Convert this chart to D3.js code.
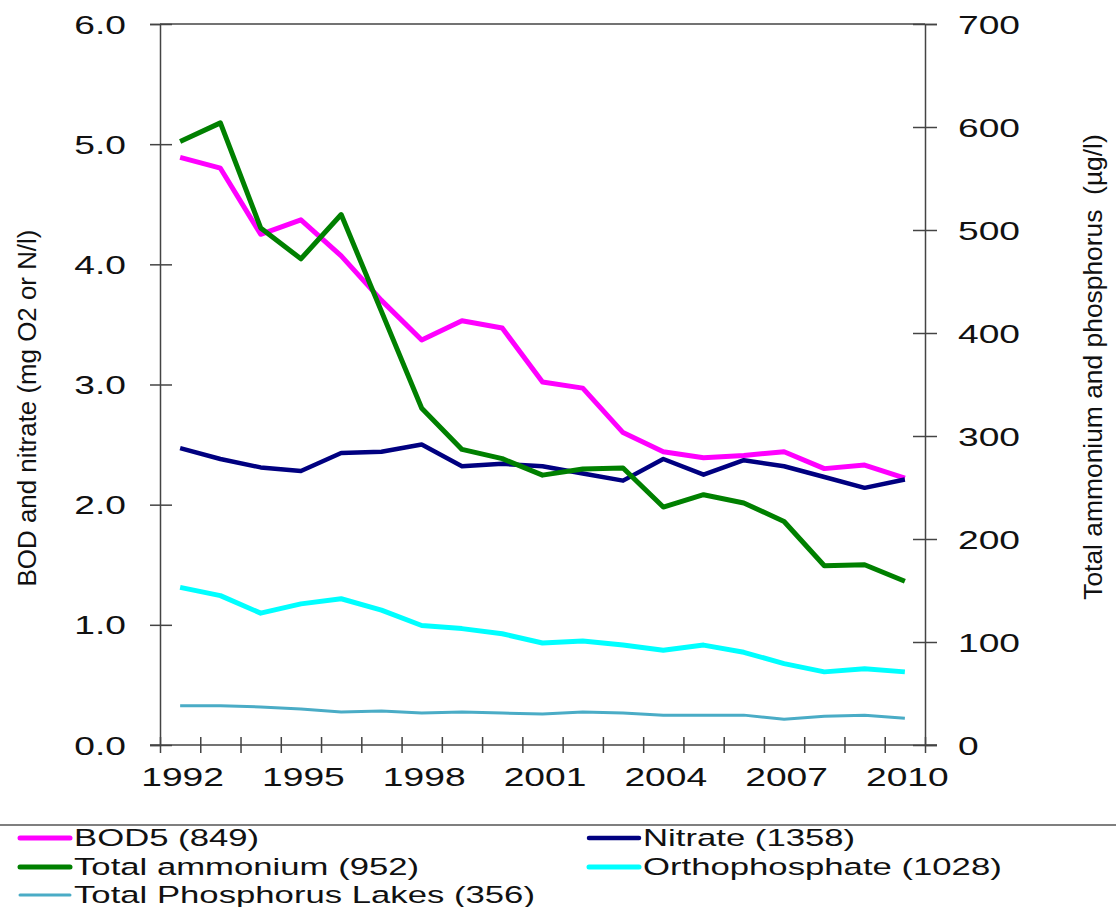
<!DOCTYPE html>
<html>
<head>
<meta charset="utf-8">
<script src="https://cdnjs.cloudflare.com/ajax/libs/d3/7.8.5/d3.min.js"></script>
<style>
body { margin: 0; background: #fff; }
svg { font-family: 'Liberation Sans', Arial, sans-serif; }
.axis path, .axis line { stroke: #444; stroke-width: 1.5px; }
.axis text { fill: #111; }
</style>
</head>
<body>
<div id="chart"></div>
<script>
var years = d3.range(1992, 2011);
var yearLabels = [1992, 1995, 1998, 2001, 2004, 2007, 2010];
var leftTicks = [0, 1, 2, 3, 4, 5, 6];
var rightTicks = [0, 100, 200, 300, 400, 500, 600, 700];

// mg/l, left axis
var bod5 = [4.89, 4.80, 4.25, 4.37, 4.07, 3.70, 3.37, 3.53, 3.47, 3.02, 2.97, 2.60, 2.44, 2.39, 2.41, 2.44, 2.30, 2.33, 2.22];
var nitrate = [2.47, 2.38, 2.31, 2.28, 2.43, 2.44, 2.50, 2.32, 2.34, 2.32, 2.26, 2.20, 2.38, 2.25, 2.37, 2.32, 2.23, 2.14, 2.21];
// µg/l, right axis
var ammonium = [586, 604, 502, 472, 515, 421, 327, 287, 278, 262, 268, 269, 231, 243, 235, 217, 174, 175, 159];
var orthophosphate = [153, 145, 128, 137, 142, 131, 116, 113, 108, 99, 101, 97, 92, 97, 90, 79, 71, 74, 71];
var tpLakes = [38, 38, 37, 35, 32, 33, 31, 32, 31, 30, 32, 31, 29, 29, 29, 25, 28, 29, 26];

var series = [
  {name: "BOD5 (849)", values: bod5, axis: "left", color: "#ff00ff", width: 5},
  {name: "Nitrate (1358)", values: nitrate, axis: "left", color: "#000080", width: 4.5},
  {name: "Total ammonium (952)", values: ammonium, axis: "right", color: "#008000", width: 5},
  {name: "Orthophosphate (1028)", values: orthophosphate, axis: "right", color: "#00ffff", width: 5},
  {name: "Total Phosphorus Lakes (356)", values: tpLakes, axis: "right", color: "#4aacc6", width: 3}
];

var W = 1116, H = 907;
var plotL = 160, plotR = 925, plotT = 24, plotB = 745;
var sx = 1.43; // the labels are drawn wide

var svg = d3.select("#chart").append("svg").attr("width", W).attr("height", H);

var x = d3.scaleLinear().domain([1991.5, 2010.5]).range([plotL, plotR]);
var yL = d3.scaleLinear().domain([0, 6]).range([plotB, plotT]);
var yR = d3.scaleLinear().domain([0, 700]).range([plotB, plotT]);

// top border
svg.append("line").attr("x1", plotL).attr("x2", plotR).attr("y1", plotT).attr("y2", plotT)
  .attr("stroke", "#444").attr("stroke-width", 1.5);

// left axis
var gl = svg.append("g").attr("class", "axis").attr("transform", "translate(" + plotL + ",0)")
  .call(d3.axisLeft(yL).tickValues(leftTicks).tickFormat(d3.format(".1f")).tickSize(10));
gl.selectAll(".tick line").attr("x1", 12).attr("x2", -10);
gl.selectAll(".tick text").attr("x", null).attr("dy", null)
  .attr("font-size", 26)
  .attr("transform", "translate(-34,9) scale(" + sx + ",1)");

// right axis
var gr = svg.append("g").attr("class", "axis").attr("transform", "translate(" + plotR + ",0)")
  .call(d3.axisRight(yR).tickValues(rightTicks).tickSize(12));
gr.selectAll(".tick line").attr("x1", -12).attr("x2", 12);
gr.selectAll(".tick text").attr("x", null).attr("dy", null)
  .attr("font-size", 26)
  .attr("transform", "translate(33,9) scale(" + sx + ",1)");

// bottom axis: ticks between years, labels every third year
var gb = svg.append("g").attr("class", "axis").attr("transform", "translate(0," + plotB + ")")
  .call(d3.axisBottom(x).tickValues(d3.range(1991.5, 2011, 1)).tickFormat("").tickSize(8));
gb.select(".domain").attr("d", "M" + (plotL - 10) + ",0H" + (plotR + 12));
gb.selectAll(".tick line").attr("y1", -8).attr("y2", 8);

var gbl = svg.append("g").attr("class", "axis").attr("transform", "translate(0," + plotB + ")")
  .call(d3.axisBottom(x).tickValues(yearLabels).tickFormat(d3.format("d")).tickSize(0));
gbl.select(".domain").remove();
gbl.selectAll(".tick text").attr("y", null).attr("dy", null)
  .attr("font-size", 26)
  .attr("transform", "translate(2,41) scale(" + sx + ",1)");

// axis titles
svg.append("text")
  .attr("transform", "translate(36,408) rotate(-90)")
  .attr("text-anchor", "middle").attr("font-size", 25.9).attr("fill", "#111")
  .text("BOD and nitrate (mg O2 or N/l)");
svg.append("text")
  .attr("transform", "translate(1102,367) rotate(-90)")
  .attr("text-anchor", "middle").attr("font-size", 26.4).attr("fill", "#111")
  .style("white-space", "pre")
  .text("Total ammonium and phosphorus  (\u00b5g/l)");

// lines
series.forEach(function (s) {
  var y = s.axis === "left" ? yL : yR;
  var line = d3.line().x(function (d, i) { return x(years[i]); }).y(function (d) { return y(d); });
  svg.append("path").datum(s.values)
    .attr("d", line)
    .attr("fill", "none")
    .attr("stroke", s.color)
    .attr("stroke-width", s.width)
    .attr("stroke-linejoin", "round");
});

// legend
svg.append("line").attr("x1", 0).attr("x2", W).attr("y1", 825).attr("y2", 825)
  .attr("stroke", "#555").attr("stroke-width", 1.5);

var legendPos = [[20, 838], [589, 838], [20, 867], [589, 867], [20, 895]];
series.forEach(function (s, i) {
  var p = legendPos[i];
  var g = svg.append("g").attr("transform", "translate(" + p[0] + "," + p[1] + ")");
  g.append("line").attr("x1", 0).attr("x2", 50).attr("y1", 0).attr("y2", 0)
    .attr("stroke", s.color).attr("stroke-width", Math.min(s.width, 5))
    .attr("stroke-linecap", "round");
  g.append("text")
    .attr("transform", "translate(54,8) scale(1.49,1)")
    .attr("font-size", 23.3).attr("fill", "#111")
    .text(s.name);
});
</script>
</body>
</html>
